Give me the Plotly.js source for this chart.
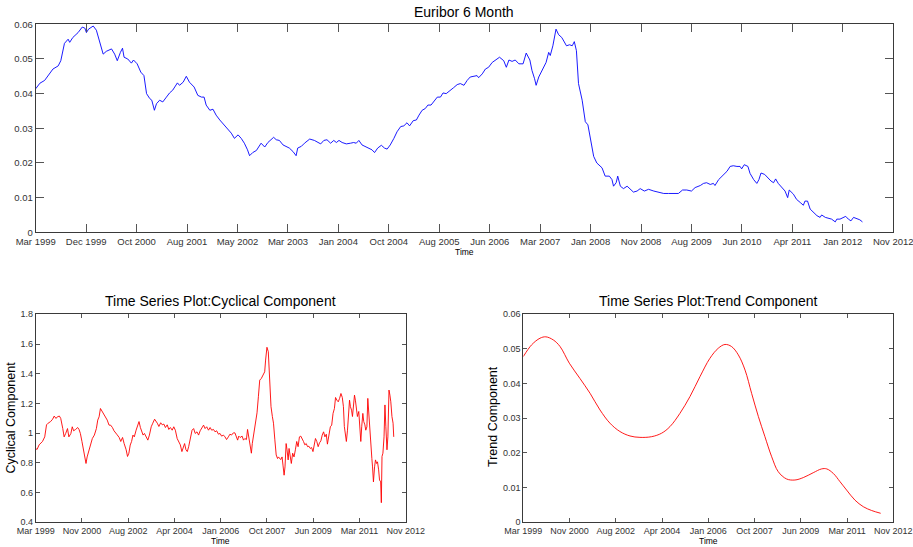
<!DOCTYPE html>
<html>
<head>
<meta charset="utf-8">
<script src="https://cdn.plot.ly/plotly-3.0.1.min.js"></script>
<style>html,body{margin:0;padding:0;background:#fff;}#chart{width:913px;height:547px;}</style>
</head>
<body>
<div id="chart"></div>
<script>
// x values are months since Mar 1999
const topTickLabels = ["Mar 1999","Dec 1999","Oct 2000","Aug 2001","May 2002","Mar 2003","Jan 2004","Oct 2004","Aug 2005","Jun 2006","Mar 2007","Jan 2008","Nov 2008","Aug 2009","Jun 2010","Apr 2011","Jan 2012","Nov 2012"];
const bottomTickLabels = ["Mar 1999","Nov 2000","Aug 2002","Apr 2004","Jan 2006","Oct 2007","Jun 2009","Mar 2011","Nov 2012"];
const spanMonths = 164;

const euriborMonths = [0,0.8,1.7,2.4,3.3,4.3,4.8,5.5,6.2,6.5,7.1,8.1,8.9,9.4,9.7,10.1,11.0,11.6,12.2,12.9,13.5,14.5,15.1,15.6,16.2,16.6,16.9,17.6,18.3,18.7,19.4,20.1,20.7,21.2,21.8,22.2,22.7,23.1,23.7,24.3,25.0,25.6,26.2,27.1,27.5,28.2,28.8,29.4,30.3,31.0,31.7,32.2,32.6,33.3,33.9,34.5,35.2,35.8,36.4,37.4,38.0,38.7,39.3,39.9,40.5,40.9,41.5,42.2,43.1,43.8,44.4,45.0,45.5,46.0,46.6,47.3,47.9,48.5,49.2,49.8,50.1,50.8,51.4,52.4,53.3,
54.5,55.1,55.7,56.4,57.0,57.5,58.0,58.6,59.4,60.2,60.8,61.3,61.8,62.4,63.1,63.7,64.3,64.8,65.4,66.1,66.7,67.2,67.8,68.5,69.1,69.8,70.4,71.0,71.5,72.2,72.8,73.3,73.9,74.5,75.0,75.6,76.1,76.8,77.4,77.9,78.5,79.2,79.9,80.6,81.2,81.9,82.5,83.1,83.8,84.4,84.7,85.4,86.0,86.6,87.3,87.9,88.7,89.5,90.0,90.5,91.1,91.7,92.4,93.2,93.8,94.5,94.9,95.4,95.7,96.2,96.8,97.6,98.1,98.4,98.9,99.5,100.0,100.6,101.5,102.1,102.6,103.0,103.4,103.8,104.5,105.1,105.6,106.1,106.7,107.3,108.3,108.9,109.7,
110.2,110.5,111.0,111.3,111.8,112.4,113.1,113.7,114.3,115.0,115.6,116.4,117.2,118.2,119.1,120.1,121.0,122.0,122.9,123.7,124.5,125.4,126.1,127.1,127.7,128.3,129.0,129.6,129.9,130.6,131.1,131.9,132.2,132.8,133.4,134.1,134.7,135.0,135.5,136.2,136.6,137.3,137.9,138.3,138.7,139.4,140.0,140.6,141.1,141.5,142.0,142.7,143.3,143.8,144.1,144.9,145.5,146.2,146.8,147.1,147.6,148.1,148.7,149.4,150.0,150.3,151.0,151.6,152.2,152.9,153.2,153.8,154.5,154.9,155.4,155.9,156.4,157.0,157.6,158.1];
const euriborValues = [0.0414,0.043,0.0438,0.0452,0.0471,0.048,0.0495,0.0545,0.0557,0.0548,0.0562,0.0576,0.0592,0.0589,0.0576,0.0586,0.0595,0.0583,0.0552,0.0514,0.0522,0.0529,0.0514,0.0495,0.0519,0.0531,0.0505,0.05,0.0488,0.0497,0.0486,0.0462,0.0452,0.04,0.0386,0.0381,0.0352,0.0371,0.0381,0.0376,0.039,0.0402,0.041,0.0431,0.0424,0.0433,0.045,0.0433,0.0419,0.0395,0.039,0.039,0.0367,0.0352,0.0355,0.0338,0.0324,0.0314,0.0303,0.0286,0.0271,0.0281,0.0271,0.0257,0.0238,0.0221,0.023,0.0236,0.0257,0.0246,0.0259,0.0267,0.0274,0.0267,0.0265,0.0252,0.0248,0.0243,0.0233,0.0221,0.0243,0.0248,0.0257,0.0269,0.0265,
0.0255,0.0265,0.0267,0.0257,0.0265,0.0259,0.0265,0.0259,0.0255,0.0257,0.0259,0.0257,0.0265,0.0252,0.0246,0.0243,0.0238,0.023,0.0243,0.0251,0.0243,0.024,0.0252,0.0271,0.029,0.0305,0.0307,0.0316,0.0307,0.0322,0.0324,0.0338,0.0352,0.0357,0.0367,0.0367,0.0376,0.039,0.039,0.0402,0.04,0.041,0.0417,0.0426,0.0429,0.0424,0.0438,0.0448,0.045,0.0452,0.0446,0.0457,0.0471,0.0476,0.049,0.0497,0.0505,0.0495,0.0476,0.0497,0.0493,0.0497,0.0486,0.0486,0.0517,0.0497,0.0467,0.0443,0.0424,0.0448,0.0467,0.049,0.0519,0.051,0.0538,0.0586,0.057,0.0562,0.0538,0.0541,0.0538,0.055,0.0524,0.0429,0.0381,0.0319,0.031,0.0267,0.0219,0.02,0.0186,0.0162,0.0162,
0.0152,0.0133,0.0143,0.0162,0.0133,0.0126,0.0133,0.0124,0.0116,0.0119,0.0126,0.0119,0.0124,0.0119,0.0116,0.0112,0.0112,0.0112,0.0112,0.0122,0.0122,0.0119,0.0129,0.0135,0.0141,0.0143,0.0138,0.0141,0.0135,0.0152,0.016,0.0171,0.0176,0.019,0.0192,0.019,0.019,0.0183,0.0195,0.019,0.017,0.0152,0.0141,0.0152,0.0171,0.0167,0.0157,0.0148,0.0143,0.0154,0.0141,0.0129,0.0119,0.01,0.0122,0.011,0.0095,0.0086,0.0078,0.009,0.009,0.0067,0.0057,0.0048,0.0043,0.005,0.0043,0.004,0.0038,0.003,0.0038,0.0038,0.0043,0.0046,0.0038,0.0033,0.0043,0.004,0.0036,0.003];

const cyclicalMonths = [0,0.6,1.5,3.0,4.0,4.8,5.5,6.6,7.5,8.2,9.0,9.6,10.5,11.1,12.0,12.6,13.3,14.1,14.7,15.6,16.2,16.8,17.7,18.6,19.2,19.8,20.5,21.3,21.9,22.3,22.8,23.5,24.3,25.1,26.0,26.9,27.5,28.1,28.7,29.3,30.2,31.0,31.7,32.5,33.2,34.0,34.7,35.9,37.0,37.7,38.5,39.2,40.1,40.7,41.3,41.9,42.5,43.1,43.7,44.5,45.2,45.8,46.4,47.0,47.6,48.2,49.0,49.7,50.4,51.2,51.9,52.7,
53.9,54.6,55.4,56.1,56.8,57.5,58.3,59.0,59.7,60.5,61.2,61.9,62.7,63.4,64.1,64.8,65.6,66.0,66.6,67.2,67.8,68.5,69.3,70.0,70.7,71.5,72.2,72.9,73.7,74.4,75.1,75.8,76.6,77.3,78.0,78.8,79.5,80.2,81.0,81.7,82.4,83.2,83.9,84.6,85.4,86.1,86.8,87.6,88.3,89.0,89.5,90.0,90.6,91.5,92.1,92.7,93.4,93.9,94.4,95.0,95.6,96.0,96.8,97.5,98.1,98.7,99.3,100.0,100.8,101.5,101.9,102.5,103.1,103.7,104.3,104.9,105.4,106.0,106.6,107.2,107.6,
108.6,109.2,109.6,110.1,110.5,111.0,111.4,111.9,112.3,112.7,113.3,113.9,114.5,115.1,115.7,116.3,116.9,117.5,118.1,118.7,119.3,119.9,120.5,121.1,121.7,122.3,122.9,123.4,124.0,124.6,125.2,125.8,126.4,127.0,127.6,128.2,128.8,129.3,129.9,130.6,131.2,131.8,132.4,132.9,133.5,134.1,134.7,135.3,135.9,136.4,136.8,137.2,137.7,138.2,138.6,139.1,139.5,140.0,140.4,140.8,141.3,141.7,142.2,142.6,143.2,143.7,144.1,144.5,145.0,145.4,145.9,146.3,146.8,147.2,147.7,148.1,148.6,149.0,149.3,149.7,150.2,150.6,151.1,151.5,152.0,152.4,152.9,153.2,153.5,153.9,154.4,154.8,155.2,155.7,156.1,156.6,157.0,157.4,157.9,158.4,158.7];
const cyclicalValues = [0.897,0.89,0.921,0.944,0.975,1.056,1.067,1.078,1.094,1.115,1.099,1.11,1.115,1.099,1.031,0.975,0.998,1.031,0.975,0.998,1.043,1.016,1.025,1.038,1.025,0.998,0.944,0.876,0.845,0.796,0.84,0.876,0.93,0.964,0.987,1.031,1.088,1.11,1.166,1.151,1.128,1.099,1.088,1.054,1.054,1.038,1.016,0.993,0.971,0.944,0.971,0.93,0.888,0.843,0.865,0.92,0.944,0.987,0.975,1.02,1.054,1.078,1.038,1.009,0.987,0.998,0.975,0.953,0.987,1.043,1.067,1.094,
1.067,1.045,1.07,1.056,1.061,1.038,1.056,1.025,1.038,1.02,1.043,1.02,0.964,0.944,0.921,0.876,0.909,0.93,0.888,0.876,0.909,0.964,1.02,1.031,0.998,1.009,0.987,1.016,1.038,1.054,1.031,1.043,1.02,1.038,1.02,1.025,1.009,1.016,0.993,0.998,0.98,0.987,0.975,0.957,0.975,0.993,0.987,1.002,1.002,0.964,0.953,0.98,0.971,0.98,0.953,0.964,0.957,1.025,0.975,0.93,0.865,0.93,1.02,1.088,1.137,1.245,1.357,1.368,1.391,1.413,1.492,1.578,1.548,1.335,1.178,1.112,1.067,0.955,0.853,0.829,0.84,
0.822,0.84,0.785,0.717,0.773,0.93,0.888,0.82,0.897,0.84,0.796,0.865,0.84,0.888,0.944,0.909,0.975,0.98,0.964,0.944,0.921,0.93,0.909,0.912,0.897,0.903,0.876,0.93,0.964,0.944,0.909,0.935,0.948,0.987,1.009,0.975,0.993,0.926,0.975,1.043,1.054,1.133,1.166,1.24,1.222,1.211,1.234,1.267,1.24,1.178,1.045,1.011,0.944,1.02,1.135,1.222,1.178,1.155,1.112,1.166,1.256,1.222,1.155,1.112,1.146,1.011,0.944,1.043,1.133,1.078,1.056,1.02,1.043,1.234,1.112,0.978,0.888,0.829,0.773,0.672,0.773,0.82,0.796,0.807,0.753,0.685,0.672,0.532,0.843,0.865,0.975,1.19,1.043,0.888,0.975,1.29,1.256,1.211,1.112,1.067,0.975];

const trendMonths = [0,3.7,7.4,10.0,13.3,16.3,20.4,25.1,29.6,34.0,38.4,42.8,47.3,51.7,56.9,61.3,65.0,69.4,73.9,78.3,82.7,86.4,89.4,92.3,95.3,98.3,101.2,104.2,107.1,110.1,113.0,116.7,120.4,124.1,128.5,132.2,134.5,137.4,140.4,143.3,147.0,150.7,154.4,158.4];
const trendValues = [0.0478,0.0512,0.0531,0.0535,0.0526,0.0507,0.0459,0.0415,0.0372,0.0324,0.0286,0.0262,0.0249,0.0245,0.0247,0.0257,0.0276,0.0314,0.0363,0.042,0.0473,0.0502,0.0513,0.0507,0.0483,0.0439,0.0372,0.0305,0.0247,0.0189,0.0146,0.0125,0.0122,0.0129,0.0143,0.0154,0.0154,0.0141,0.0117,0.0093,0.0064,0.0045,0.0034,0.0026];

const W = 913, H = 547;
const fx = p => p / W;
const fy = p => 1 - p / H;
const tickPos = labels => labels.map((_, i) => i * spanMonths / (labels.length - 1));

const FONT = "Liberation Sans, Arial, Helvetica, sans-serif";
const LINE = "#3a3a3a";
const TXT = "#333333";

function xax(domain, labels, anchor, ticklen, size) {
  return {
    domain: domain, anchor: anchor, range: [0, spanMonths],
    tickmode: "array", tickvals: tickPos(labels), ticktext: labels,
    ticks: "inside", ticklen: ticklen, tickcolor: "#555", tickwidth: 1,
    showline: true, linecolor: LINE, linewidth: 1, mirror: "ticks",
    showgrid: false, zeroline: false, ticklabeloverflow: "allow",
    tickfont: {family: FONT, size: size, color: TXT}
  };
}
function yax(domain, range, dtick, anchor, ticklen, size) {
  return {
    domain: domain, anchor: anchor, range: range, tick0: range[0], dtick: dtick,
    ticks: "inside", ticklen: ticklen, tickcolor: "#555", tickwidth: 1,
    showline: true, linecolor: LINE, linewidth: 1, mirror: "ticks",
    showgrid: false, zeroline: false, ticklabeloverflow: "allow",
    tickfont: {family: FONT, size: size, color: TXT}
  };
}

const data = [
  {x: euriborMonths, y: euriborValues, type: "scatter", mode: "lines", line: {color: "#0000ff", width: 0.9}, xaxis: "x", yaxis: "y", hoverinfo: "none"},
  {x: cyclicalMonths, y: cyclicalValues, type: "scatter", mode: "lines", line: {color: "#ff0000", width: 0.9}, xaxis: "x2", yaxis: "y2", hoverinfo: "none"},
  {x: trendMonths, y: trendValues, type: "scatter", mode: "lines", line: {color: "#ff0000", width: 0.9, shape: "spline", smoothing: 1}, xaxis: "x3", yaxis: "y3", hoverinfo: "none"}
];

function ann(text, px, py, size, angle) {
  return {text: text, xref: "paper", yref: "paper", x: fx(px), y: fy(py), xanchor: "center", yanchor: "middle",
    showarrow: false, textangle: angle || 0, font: {family: FONT, size: size, color: "#000"}};
}

const layout = {
  width: W, height: H, margin: {l: 0, r: 0, t: 0, b: 0},
  paper_bgcolor: "#fff", plot_bgcolor: "#fff", showlegend: false,
  xaxis: xax([fx(35.7), fx(893.3)], topTickLabels, "y", 8, 9.5),
  yaxis: yax([fy(232.3), fy(24.3)], [0, 0.06], 0.01, "x", 8, 9.5),
  xaxis2: xax([fx(35.7), fx(405.7)], bottomTickLabels, "y2", 4, 9),
  yaxis2: yax([fy(522.3), fy(314.3)], [0.4, 1.8], 0.2, "x2", 4, 9),
  xaxis3: xax([fx(523.3), fx(893.3)], bottomTickLabels, "y3", 4, 9),
  yaxis3: yax([fy(522.3), fy(314.3)], [0, 0.06], 0.01, "x3", 4, 9),
  annotations: [
    ann("Euribor 6 Month", 464, 12, 14),
    ann("Time", 464, 252, 8.5),
    ann("Time Series Plot:Cyclical Component", 220.7, 301, 14),
    ann("Time", 220.7, 540.5, 8.5),
    ann("Cyclical Component", 10, 417.5, 12.5, -90),
    ann("Time Series Plot:Trend Component", 708, 301, 14),
    ann("Time", 708, 540.5, 8.5),
    ann("Trend Component", 493, 417, 12.5, -90)
  ]
};

Plotly.newPlot("chart", data, layout, {staticPlot: true, displayModeBar: false});
</script>
</body>
</html>
